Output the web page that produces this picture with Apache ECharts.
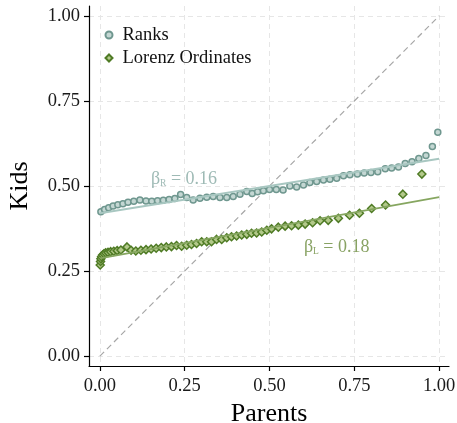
<!DOCTYPE html>
<html>
<head>
<meta charset="utf-8">
<script src="https://cdn.jsdelivr.net/npm/echarts@6/dist/echarts.min.js"></script>
<style>
  html, body { margin: 0; padding: 0; background: #ffffff; }
  #chart { width: 457px; height: 423px; }
</style>
</head>
<body>
<div id="chart"></div>
<script>
// Parent rank vs. mean kid rank
const rankX = [0.003, 0.014, 0.026, 0.039, 0.053, 0.068, 0.083, 0.100, 0.118, 0.136,
               0.153, 0.170, 0.187, 0.204, 0.221, 0.238, 0.256, 0.275, 0.295, 0.315,
               0.334, 0.354, 0.374, 0.393, 0.413, 0.433, 0.449, 0.465, 0.482, 0.500,
               0.520, 0.540, 0.560, 0.580, 0.600, 0.619, 0.639, 0.659, 0.678, 0.698,
               0.718, 0.737, 0.759, 0.779, 0.799, 0.819, 0.841, 0.860, 0.880, 0.900,
               0.920, 0.940, 0.961, 0.980, 0.996];
const rankY = [0.424, 0.431, 0.436, 0.441, 0.445, 0.448, 0.452, 0.455, 0.459, 0.456,
               0.455, 0.457, 0.458, 0.460, 0.463, 0.475, 0.466, 0.459, 0.464, 0.467,
               0.469, 0.466, 0.466, 0.469, 0.476, 0.484, 0.478, 0.483, 0.486, 0.490,
               0.490, 0.488, 0.500, 0.497, 0.503, 0.510, 0.513, 0.518, 0.520, 0.523,
               0.530, 0.533, 0.535, 0.538, 0.540, 0.542, 0.551, 0.553, 0.556, 0.566,
               0.571, 0.581, 0.590, 0.616, 0.658];

// Lorenz ordinates
const lorenzX = [0.001, 0.002, 0.003, 0.005, 0.008, 0.012, 0.017, 0.024, 0.032, 0.041,
                 0.051, 0.062, 0.080, 0.092, 0.106, 0.121, 0.136, 0.151, 0.166, 0.181,
                 0.196, 0.211, 0.226, 0.241, 0.256, 0.270, 0.285, 0.300, 0.315, 0.329,
                 0.344, 0.359, 0.374, 0.388, 0.403, 0.418, 0.433, 0.447, 0.462, 0.477,
                 0.492, 0.506, 0.526, 0.546, 0.565, 0.585, 0.605, 0.627, 0.649, 0.673,
                 0.703, 0.736, 0.765, 0.801, 0.842, 0.893, 0.949];
const lorenzY = [0.268, 0.278, 0.286, 0.292, 0.297, 0.301, 0.304, 0.305, 0.307, 0.308,
                 0.310, 0.312, 0.321, 0.311, 0.309, 0.311, 0.313, 0.315, 0.317, 0.319,
                 0.321, 0.322, 0.325, 0.323, 0.326, 0.328, 0.331, 0.336, 0.336, 0.336,
                 0.343, 0.343, 0.348, 0.351, 0.353, 0.356, 0.358, 0.361, 0.362, 0.365,
                 0.370, 0.374, 0.379, 0.382, 0.383, 0.385, 0.388, 0.392, 0.398, 0.399,
                 0.405, 0.414, 0.420, 0.434, 0.444, 0.476, 0.535];

// Linear fits (intercept, slope)
const fitRanks = [0.420, 0.16];
const fitLorenz = [0.287, 0.18];
const fitRange = [0, 1];

// 45-degree reference line
const diagRange = [0, 1];

const tickValues = [0, 0.25, 0.5, 0.75, 1];

const FONT = '"Liberation Serif", "Times New Roman", serif';
const C_RANK_EDGE = '#6f978f';
const C_RANK_FILL = '#c4d7d3';
const C_RANK_LINE = '#a8c7c1';
const C_RANK_TEXT = '#86a9a3';
const C_LOR_EDGE = '#4f7b25';
const C_LOR_FILL = '#b3c98b';
const C_LOR_LINE = '#86a660';
const C_LOR_TEXT = '#6a8b3c';

const zip = (xs, ys) => xs.map((x, i) => [x, ys[i]]);
const fitLine = (f) => fitRange.map(x => [x, f[0] + f[1] * x]);

function axisCommon() {
  return {
    type: 'value',
    axisLine: { show: true, onZero: false, lineStyle: { color: '#000', width: 1.2 } },
    axisTick: { show: true, inside: false, length: 5, customValues: tickValues,
                lineStyle: { color: '#000', width: 1.2 } },
    axisLabel: { customValues: tickValues, color: '#1a1a1a', fontFamily: FONT, fontSize: 18.5,
                 formatter: v => v.toFixed(2) },
    splitLine: { show: true, lineStyle: { color: '#e6e6e6', width: 1, type: [5, 4] } },
    nameLocation: 'middle',
    nameTextStyle: { color: '#000', fontFamily: FONT, fontSize: 26 }
  };
}

const chart = echarts.init(document.getElementById('chart'), null, { renderer: 'canvas' });

const xAxis = Object.assign(axisCommon(), {
  min: -0.032, max: 1.029, name: 'Parents', nameGap: 35
});
xAxis.axisLabel.margin = 11;
const yAxis = Object.assign(axisCommon(), {
  min: -0.029, max: 1.029, name: 'Kids', nameGap: 56
});
yAxis.axisLabel.margin = 9;

chart.setOption({
  animation: false,
  backgroundColor: '#ffffff',
  grid: { left: 89, right: 8, top: 6, bottom: 57, containLabel: false, outerBoundsMode: 'none' },
  xAxis: xAxis,
  yAxis: yAxis,
  legend: {
    orient: 'vertical',
    left: 99.5, top: 20,
    itemWidth: 7, itemHeight: 7, itemGap: 3,
    textStyle: { fontFamily: FONT, fontSize: 18.5, color: '#111', lineHeight: 20,
                 padding: [0, 0, 0, 5] },
    data: [
      { name: 'Ranks', icon: 'circle' },
      { name: 'Lorenz Ordinates', icon: 'diamond' }
    ]
  },
  series: [
    {
      name: 'diag', type: 'line', silent: true, symbol: 'none',
      data: diagRange.map(v => [v, v]),
      lineStyle: { color: '#a6a6a6', width: 1.2, type: [6, 4] },
      z: 1
    },
    {
      name: 'Ranks', type: 'scatter', symbol: 'circle', symbolSize: 6,
      data: zip(rankX, rankY),
      itemStyle: { color: C_RANK_FILL, borderColor: C_RANK_EDGE, borderWidth: 1.5, opacity: 1 },
      z: 3
    },
    {
      name: 'Lorenz Ordinates', type: 'scatter', symbol: 'diamond', symbolSize: 8,
      data: zip(lorenzX, lorenzY),
      itemStyle: { color: C_LOR_FILL, borderColor: C_LOR_EDGE, borderWidth: 1.5, opacity: 1 },
      z: 3
    },
    {
      name: 'fitRanks', type: 'line', silent: true, symbol: 'none',
      data: fitLine(fitRanks),
      lineStyle: { color: C_RANK_LINE, width: 2 },
      z: 4
    },
    {
      name: 'fitLorenz', type: 'line', silent: true, symbol: 'none',
      data: fitLine(fitLorenz),
      lineStyle: { color: C_LOR_LINE, width: 1.8 },
      z: 4
    },
    {
      name: 'notes', type: 'scatter', silent: true, symbolSize: 0,
      data: [
        { value: [0.248, 0.523], label: { formatter: '{b|β}{s|R}{b| = ' + fitRanks[1].toFixed(2) + '}',
          rich: { b: { color: C_RANK_TEXT }, s: { color: C_RANK_TEXT } } } },
        { value: [0.698, 0.323], label: { formatter: '{b|β}{s|L}{b| = ' + fitLorenz[1].toFixed(2) + '}',
          rich: { b: { color: C_LOR_TEXT }, s: { color: C_LOR_TEXT } } } }
      ],
      label: {
        show: true, position: 'inside',
        fontFamily: FONT,
        rich: {
          b: { fontFamily: FONT, fontSize: 18, lineHeight: 20, verticalAlign: 'bottom' },
          s: { fontFamily: FONT, fontSize: 9.5, lineHeight: 10, verticalAlign: 'bottom' }
        }
      },
      z: 5
    }
  ]
});
</script>
</body>
</html>
